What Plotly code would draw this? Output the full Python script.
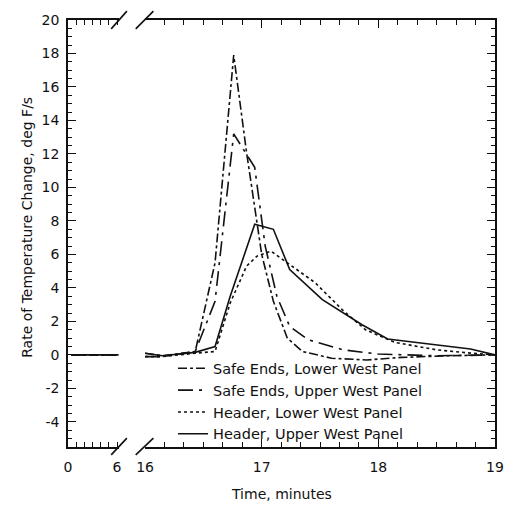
import plotly.graph_objects as go

# ---------------- data ----------------
pre_time = [0.4, 6.2]          # minutes, before the axis break
pre_rate = [0.0, 0.0]          # deg F/s (all series flat at zero)

se_lower_t = [16.0, 16.15, 16.43, 16.6, 16.76, 16.87, 17.0, 17.1, 17.22, 17.35, 17.6, 17.9, 18.2, 18.6, 19.0]
se_lower_v = [0.1, -0.05, 0.2, 5.5, 17.9, 12.1, 6.0, 3.2, 1.0, 0.2, -0.2, -0.3, -0.15, -0.05, 0.0]

se_upper_t = [16.0, 16.15, 16.43, 16.6, 16.76, 16.94, 17.03, 17.13, 17.24, 17.4, 17.7, 18.0, 18.5, 19.0]
se_upper_v = [-0.1, -0.1, 0.2, 3.2, 13.2, 11.2, 6.5, 3.5, 1.7, 0.9, 0.3, 0.05, -0.05, 0.0]

hd_lower_t = [16.0, 16.15, 16.43, 16.6, 16.73, 16.87, 16.96, 17.08, 17.24, 17.46, 17.69, 17.89, 18.14, 18.5, 18.8, 19.0]
hd_lower_v = [-0.1, -0.1, 0.1, 0.2, 3.1, 5.3, 5.9, 6.2, 5.4, 4.3, 2.7, 1.5, 0.75, 0.3, 0.1, 0.0]

hd_upper_t = [16.0, 16.15, 16.43, 16.6, 16.73, 16.94, 17.1, 17.24, 17.52, 17.86, 18.08, 18.5, 18.79, 19.0]
hd_upper_v = [0.1, -0.05, 0.15, 0.5, 3.5, 7.8, 7.5, 5.1, 3.3, 1.8, 0.95, 0.6, 0.35, 0.0]

series_names = ["Safe Ends, Lower West Panel", "Safe Ends, Upper West Panel",
                "Header, Lower West Panel", "Header, Upper West Panel"]
series_t = [se_lower_t, se_upper_t, hd_lower_t, hd_upper_t]
series_v = [se_lower_v, se_upper_v, hd_lower_v, hd_upper_v]
series_dash = ["dashdot", "longdashdot", "dot", "solid"]

left_ticks = [0, 6]
right_ticks = [16, 17, 18, 19]
y_ticks = [-4, -2, 0, 2, 4, 6, 8, 10, 12, 14, 16, 18, 20]
y_tick_labels = ["-4", "-2", "0", "2", "4", "6", "8", "10", "12", "14", "16", "18", "20"]

INK = "#111111"
FONT = "DejaVu Sans, Arial, sans-serif"

# ---------------- figure ----------------
W, H = 516, 506
L, R, T, B = 68, 13, 14, 59
PW, PH = W - L - R, H - T - B

def px(x):
    return (x - L) / PW

def py(y):
    return (H - B - y) / PH

fig = go.Figure()

for name, t, v, d in zip(series_names, series_t, series_v, series_dash):
    fig.add_trace(go.Scatter(x=pre_time, y=pre_rate, mode="lines", xaxis="x", yaxis="y",
                             line=dict(color=INK, width=1.6, dash=d), showlegend=False,
                             hoverinfo="skip"))
    fig.add_trace(go.Scatter(x=t, y=v, mode="lines", name=name, xaxis="x2", yaxis="y2",
                             line=dict(color=INK, width=1.6, dash=d)))

tickfont = dict(family=FONT, size=14, color=INK)
x_split_l = px(120)
x_split_r = px(146.5)

fig.update_layout(
    width=W, height=H,
    margin=dict(l=L, r=R, t=T, b=B),
    paper_bgcolor="white", plot_bgcolor="white",
    font=dict(family=FONT, color=INK),
    xaxis=dict(domain=[0, x_split_l], range=[0, 6.25], anchor="y",
               tickvals=left_ticks, ticks="inside", ticklen=5, tickcolor=INK,
               minor=dict(dtick=1, tick0=0, ticks="inside", ticklen=5, tickcolor=INK),
               showline=True, linecolor=INK, linewidth=1.5, mirror="ticks",
               showgrid=False, zeroline=False, tickfont=tickfont, ticklabelstandoff=6),
    xaxis2=dict(domain=[x_split_r, 1], range=[16, 19], anchor="y2",
                tickvals=right_ticks, ticks="inside", ticklen=8, tickcolor=INK,
                minor=dict(dtick=1/6, tick0=16, ticks="inside", ticklen=5, tickcolor=INK),
                showline=True, linecolor=INK, linewidth=1.5, mirror="ticks",
                showgrid=False, zeroline=False, tickfont=tickfont, ticklabelstandoff=6),
    yaxis=dict(domain=[0, 1], range=[-5.5, 20], anchor="x",
               tickvals=y_ticks, ticktext=y_tick_labels, ticks="inside", ticklen=8, tickcolor=INK,
               minor=dict(dtick=0.5, tick0=0, ticks="inside", ticklen=4, tickcolor=INK),
               showline=True, linecolor=INK, linewidth=1.5,
               showgrid=False, zeroline=False, tickfont=tickfont, ticklabelstandoff=4),
    yaxis2=dict(domain=[0, 1], range=[-5.5, 20], anchor="x2", side="right",
                tickvals=y_ticks, ticks="inside", ticklen=8, tickcolor=INK,
                minor=dict(dtick=0.5, tick0=0, ticks="inside", ticklen=4, tickcolor=INK),
                showticklabels=False,
                showline=True, linecolor=INK, linewidth=1.5,
                showgrid=False, zeroline=False),
    legend=dict(x=px(175), y=py(351), xanchor="left", yanchor="top",
                bgcolor="rgba(0,0,0,0)", font=dict(family=FONT, size=14.5, color=INK),
                tracegroupgap=0, itemwidth=30),
    showlegend=True,
)

# axis-break slashes
for (x0, y0, x1, y1) in [(112, 455, 128, 438), (137, 455, 155, 438),
                         (112, 23, 128, 5), (137, 23, 155, 5)]:
    fig.add_shape(type="line", xref="paper", yref="paper",
                  x0=px(x0), y0=py(y0), x1=px(x1), y1=py(y1),
                  line=dict(color=INK, width=1.6))

fig.add_annotation(text="Time, minutes", xref="paper", yref="paper",
                   x=px(286), y=py(495), xanchor="center", yanchor="middle",
                   showarrow=False, font=dict(family=FONT, size=14, color=INK))
fig.add_annotation(text="Rate of Temperature Change, deg F/s", xref="paper", yref="paper",
                   x=px(26), y=py(224), xanchor="center", yanchor="middle",
                   textangle=-90, showarrow=False,
                   font=dict(family=FONT, size=14, color=INK))

fig.write_html("out.html", config={"displayModeBar": False},
               post_script="document.body.style.margin='0px';")
